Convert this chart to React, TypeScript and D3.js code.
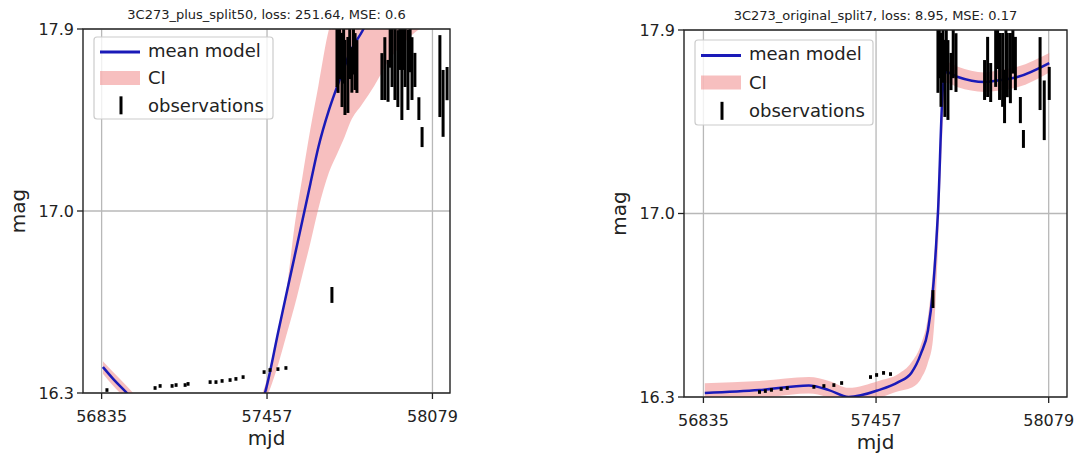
import React from "react";
import * as d3 from "d3";

// axis setup shared by both panels
const mjdRange = [56765, 58145];
const magRange = [16.25, 17.85];
const xTicks = [56835, 57457, 58079];
const yTicks = [16.25, 17.05, 17.85];
const yTickLabels = ["16.3", "17.0", "17.9"];

// left panel: 3C273_plus_split50
const leftGrid = [56840, 56880, 56930, 57000, 57100, 57200, 57300, 57400, 57449, 57500, 57530, 57560, 57590, 57620, 57650, 57690, 57720, 57750, 57770, 57815, 57860, 57920, 57980, 58030, 58080];
const leftMean = [16.364, 16.31, 16.25, 16.16, 16.06, 16.0, 16.02, 16.13, 16.25, 16.524, 16.686, 16.847, 17.008, 17.17, 17.33, 17.494, 17.595, 17.69, 17.75, 17.84, 17.95, 18.05, 18.13, 18.18, 18.22];
const leftLo = [16.335, 16.28, 16.22, 16.13, 16.03, 15.97, 15.99, 16.1, 16.21, 16.38, 16.505, 16.63, 16.77, 16.91, 17.06, 17.22, 17.3, 17.38, 17.44, 17.52, 17.6, 17.72, 17.8, 17.85, 17.89];
const leftHi = [16.39, 16.34, 16.28, 16.19, 16.09, 16.03, 16.05, 16.16, 16.28, 16.53, 16.7, 16.98, 17.2, 17.41, 17.6, 17.85, 17.95, 18.05, 18.1, 18.2, 18.3, 18.4, 18.5, 18.55, 18.6];

const leftObsMjd = [56855, 57036, 57055, 57100, 57115, 57149, 57160, 57243, 57265, 57288, 57318, 57340, 57367, 57446, 57468, 57498, 57528, 57701,
  57720, 57724, 57730, 57739, 57745, 57750, 57761, 57768, 57776, 57782, 57788, 57795,
  57889, 57900, 57912, 57920, 57927, 57938, 57949, 57957, 57964, 57970, 57976, 57987, 57995, 58002, 58013, 58028, 58040, 58107, 58119, 58134];
const leftObsMag = [16.263, 16.272, 16.281, 16.281, 16.285, 16.285, 16.29, 16.298, 16.298, 16.303, 16.307, 16.312, 16.32, 16.342, 16.351, 16.355, 16.36, 16.681,
  17.742, 17.714, 17.78, 17.67, 17.75, 17.637, 17.648, 17.76, 17.67, 17.8, 17.707, 17.685,
  17.641, 17.676, 17.622, 17.8, 17.727, 17.714, 17.676, 17.82, 17.654, 17.8, 17.742, 17.67, 17.78, 17.676, 17.67, 17.5, 17.375, 17.643, 17.523, 17.61];
const leftObsErr = [0.008, 0.008, 0.008, 0.008, 0.008, 0.008, 0.008, 0.008, 0.008, 0.008, 0.008, 0.008, 0.008, 0.008, 0.008, 0.008, 0.008, 0.035,
  0.147, 0.145, 0.15, 0.163, 0.14, 0.165, 0.167, 0.13, 0.1, 0.15, 0.125, 0.116,
  0.103, 0.138, 0.092, 0.12, 0.132, 0.176, 0.169, 0.15, 0.204, 0.13, 0.147, 0.176, 0.12, 0.138, 0.075, 0.05, 0.044, 0.18, 0.147, 0.073];

// right panel: 3C273_original_split7
const rightGrid = [56840, 57037, 57215, 57287, 57358, 57466, 57537, 57584, 57619, 57644, 57662, 57673, 57680, 57698, 57709, 57752, 57848, 57895, 57966, 58081];
const rightMean = [16.267, 16.28, 16.3, 16.28, 16.25, 16.28, 16.315, 16.355, 16.44, 16.54, 16.717, 16.904, 17.052, 17.6, 17.667, 17.645, 17.623, 17.63, 17.645, 17.706];
const rightLo = [16.235, 16.245, 16.265, 16.248, 16.22, 16.245, 16.275, 16.29, 16.33, 16.4, 16.5, 16.7, 16.9, 17.45, 17.62, 17.6, 17.58, 17.585, 17.6, 17.665];
const rightHi = [16.31, 16.32, 16.337, 16.32, 16.29, 16.32, 16.35, 16.4, 16.48, 16.6, 16.8, 16.98, 17.15, 17.66, 17.71, 17.69, 17.665, 17.675, 17.69, 17.75];

const rightObsMjd = [57037, 57058, 57080, 57115, 57137, 57233, 57269, 57305, 57333, 57437, 57459, 57484, 57509, 57662,
  57680, 57685, 57691, 57698, 57705, 57710, 57716, 57727, 57735, 57745,
  57848, 57859, 57870, 57888, 57895, 57902, 57913, 57920, 57925, 57930, 57941, 57950, 57959, 57977, 57988, 58048, 58063, 58081];
const rightObsMag = [16.272, 16.276, 16.281, 16.285, 16.289, 16.294, 16.298, 16.302, 16.311, 16.337, 16.346, 16.355, 16.35, 16.677,
  17.713, 17.78, 17.676, 17.77, 17.639, 17.8, 17.632, 17.669, 17.76, 17.708,
  17.632, 17.689, 17.621, 17.726, 17.8, 17.691, 17.676, 17.56, 17.8, 17.697, 17.684, 17.78, 17.704, 17.501, 17.375, 17.66, 17.5, 17.617];
const rightObsErr = [0.008, 0.008, 0.008, 0.008, 0.008, 0.008, 0.008, 0.008, 0.008, 0.008, 0.008, 0.008, 0.008, 0.039,
  0.137, 0.14, 0.161, 0.15, 0.168, 0.13, 0.174, 0.081, 0.12, 0.128,
  0.087, 0.131, 0.085, 0.124, 0.12, 0.146, 0.161, 0.116, 0.13, 0.14, 0.153, 0.12, 0.116, 0.057, 0.039, 0.159, 0.13, 0.072];

const legendLabels = ["mean model", "CI", "observations"];

const FONT = "DejaVu Sans, sans-serif";
const BLUE = "#1a1ab8";
const PINK = "#f08080";

type Box = { x0: number; x1: number; y0: number; y1: number };
type Leg = { x: number; y: number; w: number; h: number };

function Panel(props: {
  id: string; title: string; box: Box; leg: Leg;
  grid: number[]; mean: number[]; lo: number[]; hi: number[];
  obsMjd: number[]; obsMag: number[]; obsErr: number[];
}) {
  const { id, title, box, leg, grid, mean, lo, hi, obsMjd, obsMag, obsErr } = props;
  const x = d3.scaleLinear().domain(mjdRange).range([box.x0, box.x1]);
  const y = d3.scaleLinear().domain(magRange).range([box.y1, box.y0]);

  const line = d3.line<number>()
    .x((_, i) => x(grid[i]))
    .y(d => y(d))
    .curve(d3.curveMonotoneX);
  const area = d3.area<number>()
    .x((_, i) => x(grid[i]))
    .y0((_, i) => y(lo[i]))
    .y1((_, i) => y(hi[i]))
    .curve(d3.curveMonotoneX);

  const cx = (box.x0 + box.x1) / 2;
  const cy = (box.y0 + box.y1) / 2;
  const rowH = leg.h / 3;

  return (
    <g fontFamily={FONT}>
      <defs>
        <clipPath id={id}>
          <rect x={box.x0} y={box.y0} width={box.x1 - box.x0} height={box.y1 - box.y0} />
        </clipPath>
      </defs>

      {/* grid */}
      {xTicks.map(t => (
        <line key={"gx" + t} x1={x(t)} x2={x(t)} y1={box.y0} y2={box.y1} stroke="#b8b8b8" strokeWidth={1.3} />
      ))}
      {yTicks.map(t => (
        <line key={"gy" + t} x1={box.x0} x2={box.x1} y1={y(t)} y2={y(t)} stroke="#b8b8b8" strokeWidth={1.3} />
      ))}

      <g clipPath={`url(#${id})`}>
        <path d={area(mean) || ""} fill={PINK} fillOpacity={0.5} />
        <path d={line(mean) || ""} fill="none" stroke={BLUE} strokeWidth={2.5} />
        {obsMjd.map((m, i) => {
          const yc = y(obsMag[i]);
          const half = Math.max(1.6, y(obsMag[i] - obsErr[i]) - yc);
          return (
            <line key={"o" + i} x1={x(m)} x2={x(m)} y1={yc - half} y2={yc + half} stroke="#000" strokeWidth={3} />
          );
        })}
      </g>

      {/* legend */}
      <rect x={leg.x} y={leg.y} width={leg.w} height={leg.h} rx={3} fill="#fff" fillOpacity={0.8} stroke="#cccccc" strokeWidth={1.2} />
      <line x1={leg.x + 6} x2={leg.x + 46} y1={leg.y + rowH * 0.55} y2={leg.y + rowH * 0.55} stroke={BLUE} strokeWidth={3} />
      <rect x={leg.x + 6} y={leg.y + rowH * 1.5 - 7} width={40} height={14} fill={PINK} fillOpacity={0.5} />
      <line x1={leg.x + 27} x2={leg.x + 27} y1={leg.y + rowH * 2.5 - 9} y2={leg.y + rowH * 2.5 + 9} stroke="#000" strokeWidth={3} />
      {legendLabels.map((l, i) => (
        <text key={l} x={leg.x + 54} y={leg.y + rowH * (i + 0.5)} dy="0.35em" fontSize={18} fill="#222">{l}</text>
      ))}

      {/* frame */}
      <rect x={box.x0} y={box.y0} width={box.x1 - box.x0} height={box.y1 - box.y0} fill="none" stroke="#222" strokeWidth={1.4} />

      {/* x axis */}
      {xTicks.map(t => (
        <g key={"xt" + t}>
          <line x1={x(t)} x2={x(t)} y1={box.y1} y2={box.y1 + 6} stroke="#222" strokeWidth={1.3} />
          <text x={x(t)} y={box.y1 + 29} textAnchor="middle" fontSize={16} fill="#222">{t}</text>
        </g>
      ))}
      <text x={cx} y={box.y1 + 52} textAnchor="middle" fontSize={20} fill="#222">mjd</text>

      {/* y axis */}
      {yTicks.map((t, i) => (
        <g key={"yt" + t}>
          <line x1={box.x0 - 6} x2={box.x0} y1={y(t)} y2={y(t)} stroke="#222" strokeWidth={1.3} />
          <text x={box.x0 - 9} y={y(t)} dy="0.35em" textAnchor="end" fontSize={16} fill="#222">{yTickLabels[i]}</text>
        </g>
      ))}
      <text transform={`translate(${box.x0 - 58},${cy}) rotate(-90)`} textAnchor="middle" fontSize={20} fill="#222">mag</text>

      <text x={cx} y={box.y0 - 10} textAnchor="middle" fontSize={13} fill="#222">{title}</text>
    </g>
  );
}

export default function App() {
  return (
    <svg width={1077} height={461} style={{ position: "absolute", left: 0, top: 0, background: "#fff" }}>
      <rect width={1077} height={461} fill="#fff" />
      <Panel
        id="clipL"
        title="3C273_plus_split50, loss: 251.64, MSE: 0.6"
        box={{ x0: 83, x1: 450, y0: 29, y1: 393 }}
        leg={{ x: 94, y: 37, w: 179, h: 82 }}
        grid={leftGrid} mean={leftMean} lo={leftLo} hi={leftHi}
        obsMjd={leftObsMjd} obsMag={leftObsMag} obsErr={leftObsErr}
      />
      <Panel
        id="clipR"
        title="3C273_original_split7, loss: 8.95, MSE: 0.17"
        box={{ x0: 684, x1: 1067, y0: 30, y1: 397 }}
        leg={{ x: 695, y: 40, w: 178, h: 85 }}
        grid={rightGrid} mean={rightMean} lo={rightLo} hi={rightHi}
        obsMjd={rightObsMjd} obsMag={rightObsMag} obsErr={rightObsErr}
      />
    </svg>
  );
}
